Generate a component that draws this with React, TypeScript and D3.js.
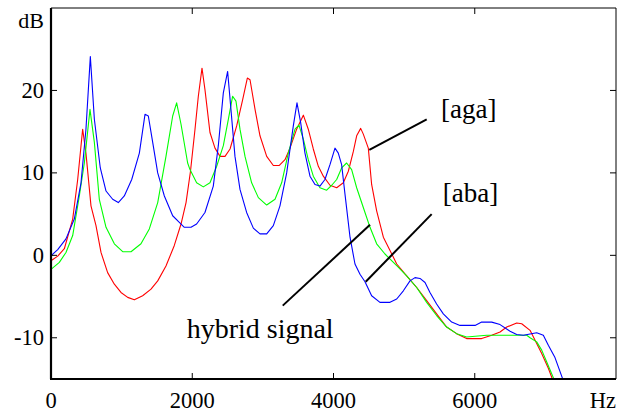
import React, { useRef, useEffect } from "react";
import * as d3 from "d3";

// spectra, [Hz, dB]
const abaSpectrum: [number, number][] = [
  [0, -0.05], [95, 0.7], [212, 2], [330, 4.4], [425, 8.8], [495, 15.3], [557, 24.1], [614, 16.5],
  [698, 10.6], [779, 7.8], [873, 6.8], [953, 6.4], [1038, 7.2], [1143, 9.2], [1251, 12.4], [1331, 17.1],
  [1378, 16.9], [1440, 13.7], [1511, 10], [1605, 7.2], [1723, 4.8], [1817, 4.0], [1888, 3.4], [1982, 3.4],
  [2062, 3.8], [2180, 5.2], [2298, 8.4], [2369, 13.3], [2440, 19.7], [2501, 22.3], [2544, 18.1], [2605, 12.0],
  [2676, 8.0], [2770, 5.2], [2865, 3.3], [2959, 2.6], [3054, 2.6], [3148, 3.6], [3242, 6.0], [3337, 10.0],
  [3431, 15.7], [3483, 18.5], [3535, 16.1], [3596, 12.4], [3667, 9.6], [3738, 8.6], [3808, 8.4], [3879, 9.2],
  [3950, 11.0], [4021, 13.0], [4068, 12.4], [4115, 11.0], [4163, 7.4], [4234, 2.2], [4304, -1.05], [4375, -2.3],
  [4446, -3.2], [4540, -4.9], [4658, -5.7], [4800, -5.7], [4895, -5.3], [4989, -4.3], [5083, -3.1], [5154, -2.7],
  [5225, -2.8], [5296, -3.3], [5366, -4.5], [5460, -5.9], [5555, -7.1], [5673, -8.1], [5791, -8.5], [6004, -8.5],
  [6098, -8.1], [6240, -8.1], [6358, -8.4], [6500, -9.2], [6594, -9.6], [6689, -9.7], [6877, -9.4], [6971, -9.7],
  [7042, -10.9], [7136, -12.4], [7254, -15.2], [7300, -16],
];

const agaSpectrum: [number, number][] = [
  [0, -0.65], [95, -0.1], [189, 0.8], [307, 4.4], [378, 9.2], [448, 15.3], [495, 12.4], [566, 6.0],
  [637, 3.6], [708, 0.35], [802, -2.1], [897, -3.5], [991, -4.5], [1086, -5.1], [1180, -5.4], [1298, -4.9],
  [1416, -4.1], [1511, -3.1], [1628, -1.3], [1746, 1.2], [1841, 3.8], [1912, 6.4], [1975, 10.2], [2039, 15.3],
  [2086, 19.3], [2138, 22.7], [2180, 20.1], [2251, 14.9], [2322, 13.0], [2393, 12.0], [2464, 12.0], [2535, 12.9],
  [2629, 15.7], [2714, 18.9], [2780, 21.5], [2818, 21.3], [2889, 17.7], [2959, 14.5], [3054, 12.0], [3148, 10.9],
  [3233, 10.9], [3313, 11.6], [3384, 13.0], [3478, 15.3], [3573, 17.0], [3643, 15.3], [3714, 12.9], [3785, 10.8],
  [3856, 9.6], [3950, 8.5], [4045, 8.2], [4139, 8.8], [4210, 10.2], [4281, 12.6], [4328, 14.5], [4385, 15.4],
  [4422, 14.7], [4493, 13.0], [4540, 8.6], [4611, 5.4], [4706, 2.2], [4800, 0.6], [4895, -1.05], [5036, -2.5],
  [5178, -3.9], [5319, -5.5], [5460, -7.1], [5602, -8.7], [5743, -9.5], [5885, -10.1], [6098, -10.1], [6240, -9.7],
  [6358, -9.3], [6453, -8.7], [6594, -8.2], [6665, -8.3], [6783, -9.1], [6854, -10.3], [6948, -11.9], [7042, -13.7],
  [7108, -15.2], [7150, -16],
];

const hybridSpectrum: [number, number][] = [
  [0, -1.7], [118, -0.85], [212, 0.35], [307, 2.4], [401, 7.2], [472, 11.2], [552, 17.7], [614, 13.7],
  [684, 6.8], [779, 3.4], [897, 1.4], [1015, 0.44], [1133, 0.44], [1274, 1.4], [1392, 3.2], [1511, 6.4],
  [1628, 12.0], [1723, 16.9], [1779, 18.5], [1841, 15.9], [1935, 11.2], [1968, 10.4], [2062, 8.8], [2157, 8.3],
  [2251, 8.8], [2346, 10.8], [2440, 13.3], [2511, 16.5], [2572, 19.3], [2619, 18.7], [2676, 15.3], [2747, 12.0],
  [2841, 8.8], [2936, 7.0], [3054, 6.1], [3172, 6.8], [3266, 8.8], [3360, 12.4], [3455, 15.3], [3511, 15.8],
  [3573, 14.1], [3643, 11.6], [3714, 9.6], [3808, 8.2], [3903, 7.9], [3975, 8.5], [4045, 9.2], [4115, 10.6],
  [4186, 11.2], [4257, 10.4], [4328, 8.2], [4422, 5.8], [4517, 3.4], [4611, 1.4], [4729, 0.16], [4895, -1.26],
  [5036, -2.5], [5178, -3.9], [5319, -5.7], [5460, -7.3], [5602, -8.7], [5743, -9.5], [5885, -9.9], [6170, -9.7],
  [6736, -9.7], [6783, -10.0], [6877, -10.5], [6948, -11.5], [7018, -12.9], [7130, -15.2], [7170, -16],
];

const xTicks = [0, 2000, 4000, 6000];
const yTicks = [-10, 0, 10, 20];

// annotations: label, text anchor [Hz, dB], leader line from/to [Hz, dB]
const labels = [
  { text: "[aga]", size: 27, at: [5522, 16.6], from: [5320, 16.5], to: [4507, 12.8] },
  { text: "[aba]", size: 27, at: [5546, 6.5], from: [5390, 5.0], to: [4456, -3.2] },
  { text: "hybrid signal", size: 28, at: [1921, -10.0], from: [4517, 3.7], to: [3281, -6.1] },
];

const App = () => {
  const svgRef = useRef<SVGSVGElement>(null);

  useEffect(() => {
    const svg = d3.select(svgRef.current);
    svg.selectAll("*").remove();

    const width = 627;
    const height = 415;
    const margin = { top: 8, right: 11, bottom: 36, left: 51 };
    const font = "Times";

    const x = d3.scaleLinear().domain([0, 8000]).range([margin.left, width - margin.right]);
    const y = d3.scaleLinear().domain([-15, 30]).range([height - margin.bottom, margin.top]);

    svg.append("defs").append("clipPath").attr("id", "plot")
      .append("rect")
      .attr("x", x(0)).attr("y", y(30))
      .attr("width", x(8000) - x(0)).attr("height", y(-15) - y(30));

    const line = d3.line<[number, number]>().x((d) => x(d[0])).y((d) => y(d[1]));

    const curves = svg.append("g").attr("clip-path", "url(#plot)");
    [
      { data: agaSpectrum, color: "#ff0000" },
      { data: hybridSpectrum, color: "#00ff00" },
      { data: abaSpectrum, color: "#0000ff" },
    ].forEach((s) => {
      curves.append("path")
        .attr("d", line(s.data))
        .attr("fill", "none")
        .attr("stroke", s.color)
        .attr("stroke-width", 1.1)
        .attr("stroke-linejoin", "round");
    });

    // box
    svg.append("line").attr("x1", x(0)).attr("x2", x(8000)).attr("y1", y(30)).attr("y2", y(30))
      .attr("stroke", "#000").attr("stroke-width", 1);
    svg.append("line").attr("x1", x(8000)).attr("x2", x(8000)).attr("y1", y(30)).attr("y2", y(-15))
      .attr("stroke", "#000").attr("stroke-width", 1);
    svg.append("line").attr("x1", x(0) - 1).attr("x2", x(8000)).attr("y1", y(-15)).attr("y2", y(-15))
      .attr("stroke", "#000").attr("stroke-width", 2.2);
    svg.append("line").attr("x1", x(0)).attr("x2", x(0)).attr("y1", y(30)).attr("y2", y(-15))
      .attr("stroke", "#000").attr("stroke-width", 2.2);

    // ticks pointing in
    const tl = 6;
    xTicks.filter((t) => t > 0).forEach((t) => {
      svg.append("line").attr("x1", x(t)).attr("x2", x(t)).attr("y1", y(-15)).attr("y2", y(-15) - tl)
        .attr("stroke", "#000").attr("stroke-width", 1);
      svg.append("line").attr("x1", x(t)).attr("x2", x(t)).attr("y1", y(30)).attr("y2", y(30) + tl)
        .attr("stroke", "#000").attr("stroke-width", 1);
    });
    yTicks.forEach((t) => {
      svg.append("line").attr("x1", x(0)).attr("x2", x(0) + tl).attr("y1", y(t)).attr("y2", y(t))
        .attr("stroke", "#000").attr("stroke-width", 1);
      svg.append("line").attr("x1", x(8000)).attr("x2", x(8000) - tl).attr("y1", y(t)).attr("y2", y(t))
        .attr("stroke", "#000").attr("stroke-width", 1);
    });

    // tick labels
    svg.selectAll(".xl").data(xTicks).enter().append("text")
      .attr("x", (d) => x(d)).attr("y", 408)
      .attr("text-anchor", "middle")
      .attr("font-family", font).attr("font-size", 22.5)
      .text((d) => String(d));
    svg.append("text").attr("x", x(8000)).attr("y", 408).attr("text-anchor", "end")
      .attr("font-family", font).attr("font-size", 22.5).text("Hz");

    svg.selectAll(".yl").data(yTicks).enter().append("text")
      .attr("x", 44).attr("y", (d) => y(d) + 7.5)
      .attr("text-anchor", "end")
      .attr("font-family", font).attr("font-size", 22.5)
      .text((d) => String(d));
    svg.append("text").attr("x", 44).attr("y", 28).attr("text-anchor", "end")
      .attr("font-family", font).attr("font-size", 22).text("dB");

    // annotations
    labels.forEach((l) => {
      svg.append("line")
        .attr("x1", x(l.from[0])).attr("y1", y(l.from[1]))
        .attr("x2", x(l.to[0])).attr("y2", y(l.to[1]))
        .attr("stroke", "#000").attr("stroke-width", 2);
      svg.append("text")
        .attr("x", x(l.at[0])).attr("y", y(l.at[1]))
        .attr("font-family", font).attr("font-size", l.size)
        .text(l.text);
    });
  }, []);

  return (
    <svg
      ref={svgRef}
      width={627}
      height={415}
      style={{ position: "absolute", left: 0, top: 0, background: "#fff" }}
    ></svg>
  );
};

export default App;
